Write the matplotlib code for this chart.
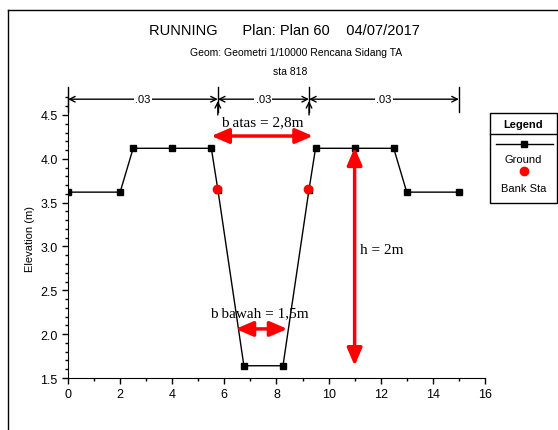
import numpy as np
import matplotlib
matplotlib.use('Agg')
import matplotlib.pyplot as plt
from matplotlib.lines import Line2D
from matplotlib.patches import Rectangle

# data
station = [0, 2, 2.5, 4, 5.5, 5.75, 6.75, 8.25, 9.25, 9.5, 11, 12.5, 13, 15]
elev = [3.62, 3.62, 4.12, 4.12, 4.12, 3.65, 1.64, 1.64, 3.65, 4.12, 4.12, 4.12, 3.62, 3.62]
bank_x = [5.7, 9.2]
bank_y = [3.66, 3.66]
mann_x = [0, 5.75, 9.25, 15]
mann_lbl = ['.03', '.03', '.03']

narrow = ['Liberation Sans', 'DejaVu Sans']
serif = ['Liberation Serif', 'DejaVu Serif']

fig = plt.figure(figsize=(5.58, 4.31), dpi=100)
ax = fig.add_axes([0.1219, 0.1206, 0.7471, 0.651])

ax.plot(station, elev, color='black', lw=1, marker='s', ms=5, zorder=3)
ax.plot(bank_x, bank_y, 'o', color='red', ms=6, zorder=4)

ax.set_xlim(0, 16)
ax.set_ylim(1.5, 4.7)
ax.spines['top'].set_visible(False)
ax.spines['right'].set_visible(False)
ax.set_xticks(np.arange(0, 17, 2))
ax.set_xticks(np.arange(1, 16, 2), minor=True)
ax.set_yticks(np.arange(1.5, 4.51, 0.5))
ax.set_yticks(np.arange(1.5, 4.71, 0.1), minor=True)
ax.set_yticklabels(['%.1f' % v for v in np.arange(1.5, 4.51, 0.5)])
ax.tick_params(direction='out', length=4, width=1)
ax.tick_params(which='minor', direction='out', length=2, width=1)
for lb in ax.get_xticklabels() + ax.get_yticklabels():
    lb.set_family(narrow)
    lb.set_fontsize(9)
ax.set_ylabel('Elevation (m)', fontsize=8, family=narrow)
ax.set_xlabel('Station (m)', fontsize=8, family=narrow, labelpad=22)

# manning's n dimension lines
yd = 4.68
for x in mann_x:
    ax.plot([x, x], [4.53, 4.82], color='black', lw=1, clip_on=False)
for i in range(3):
    x0, x1 = mann_x[i], mann_x[i + 1]
    ax.annotate('', xy=(x1, yd), xytext=(x0, yd), annotation_clip=False,
                arrowprops=dict(arrowstyle='<->', color='black', lw=1, shrinkA=0, shrinkB=0))
    ax.text((x0 + x1) / 2, yd, mann_lbl[i], ha='center', va='center', fontsize=8,
            family=narrow, bbox=dict(fc='white', ec='none', pad=1))
for x in mann_x[1:3]:
    ax.annotate('', xy=(x, 4.66), xytext=(x, 4.5), annotation_clip=False,
                arrowprops=dict(arrowstyle='->', color='black', lw=1, shrinkA=0, shrinkB=0))

# red dimension arrows
red = dict(arrowstyle='<|-|>,head_length=0.7,head_width=0.3', color='red', lw=2.5,
           mutation_scale=15, shrinkA=0, shrinkB=0)
ax.annotate('', xy=(9.4, 4.26), xytext=(5.5, 4.26), arrowprops=red, annotation_clip=False)
ax.text(7.46, 4.42, 'b atas = 2,8m', ha='center', va='center', fontsize=11, family=serif)
ax.annotate('', xy=(11, 4.13), xytext=(11, 1.64), arrowprops=red)
ax.text(11.2, 2.97, 'h = 2m', ha='left', va='center', fontsize=11, family=serif)
ax.annotate('', xy=(8.42, 2.06), xytext=(6.43, 2.06), arrowprops=red)
ax.text(7.35, 2.25, 'b bawah = 1,5m', ha='center', va='center', fontsize=11, family=serif)

# titles
fig.text(0.51, 1 - 31 / 431, 'RUNNING      Plan: Plan 60    04/07/2017', ha='center', va='center',
         fontsize=10.5, family=narrow)
fig.text(0.531, 1 - 53 / 431, 'Geom: Geometri 1/10000 Rencana Sidang TA', ha='center', va='center',
         fontsize=7.5, family=narrow)
fig.text(0.52, 1 - 72 / 431, 'sta 818', ha='center', va='center', fontsize=7.5, family=narrow)

# legend box drawn by hand
lx0, lx1 = 490 / 558, 557 / 558
ly0, ly1 = 1 - 204 / 431, 1 - 114 / 431
fig.add_artist(Rectangle((lx0, ly0), lx1 - lx0, ly1 - ly0, transform=fig.transFigure,
                         fill=False, ec='black', lw=1))
fig.add_artist(Line2D([lx0, lx1], [1 - 135 / 431] * 2, transform=fig.transFigure, color='black', lw=1))
lc = (lx0 + lx1) / 2
fig.text(lc, 1 - 125 / 431, 'Legend', ha='center', va='center', fontsize=8, weight='bold', family=narrow)
fig.add_artist(Line2D([496 / 558, 553 / 558], [1 - 145 / 431] * 2, transform=fig.transFigure,
                      color='black', lw=1))
fig.add_artist(Line2D([lc], [1 - 145 / 431], transform=fig.transFigure, marker='s', ms=5, color='black'))
fig.text(lc, 1 - 160 / 431, 'Ground', ha='center', va='center', fontsize=8, family=narrow)
fig.add_artist(Line2D([lc], [1 - 172 / 431], transform=fig.transFigure, marker='o', ms=6,
                      color='red', ls='none'))
fig.text(lc, 1 - 189 / 431, 'Bank Sta', ha='center', va='center', fontsize=8, family=narrow)

# outer frame
fig.add_artist(Line2D([8 / 558, 1], [1 - 11 / 431] * 2, transform=fig.transFigure, color='black', lw=1))
fig.add_artist(Line2D([8 / 558] * 2, [0, 1 - 11 / 431], transform=fig.transFigure, color='black', lw=1))

fig.savefig('out.png', dpi=100)
